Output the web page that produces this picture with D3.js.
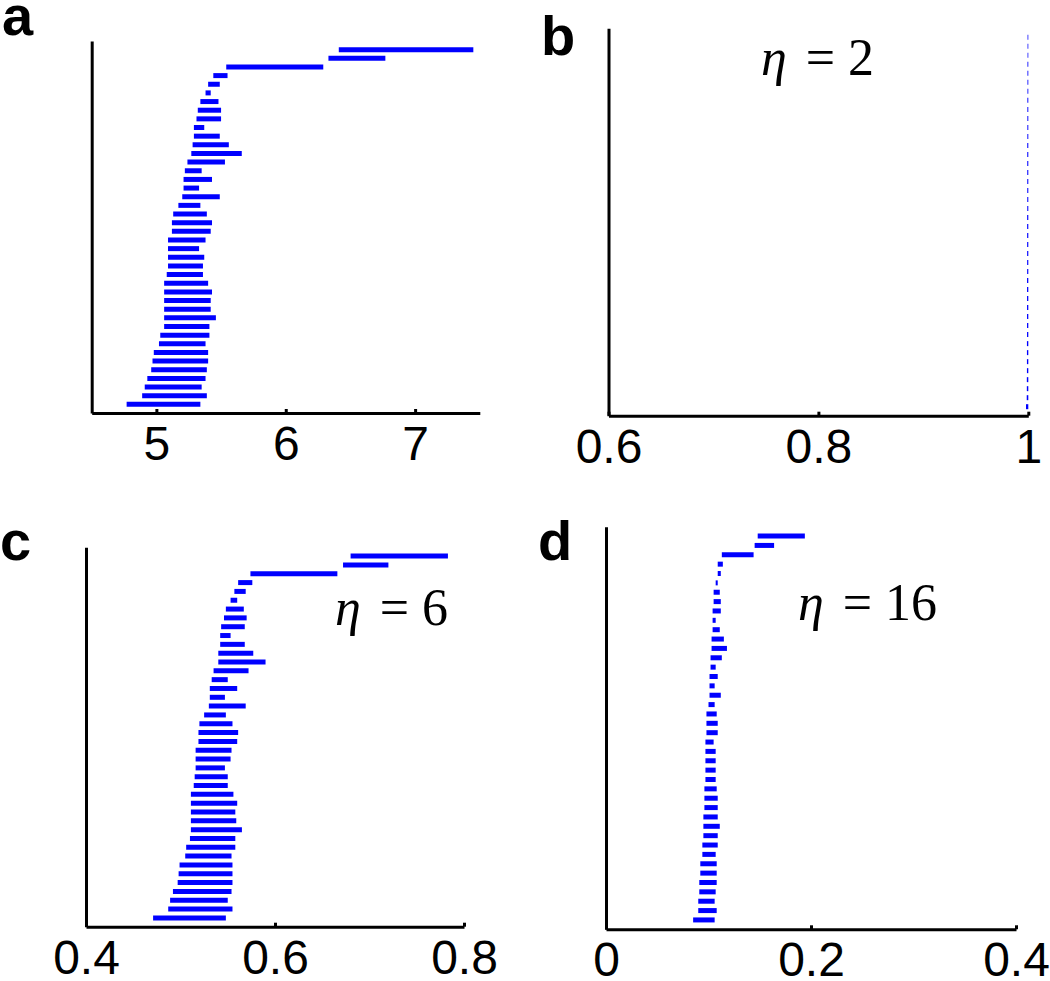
<!DOCTYPE html>
<html>
<head>
<meta charset="utf-8">
<script src="https://cdn.jsdelivr.net/npm/d3@7"></script>
<style>
  body { margin: 0; background: #fff; }
  .tick text { font-family: "Liberation Sans", Arial, sans-serif; font-size: 48px; fill: #000; }
  .panel-label { font-family: "Liberation Sans", Arial, sans-serif; font-weight: bold; font-size: 56px; }
  .eta { font-family: "Liberation Serif", "Times New Roman", serif; font-size: 52px; }
</style>
</head>
<body>
<svg id="chart" width="1050" height="981"></svg>
<script>
// intervals per row, listed top row first (42 rows in every panel)
var aLow  = [6.41, 6.33, 5.54, 5.44, 5.40, 5.38, 5.34, 5.32, 5.31, 5.29, 5.29, 5.28, 5.27, 5.24,
             5.22, 5.21, 5.21, 5.20, 5.17, 5.13, 5.12, 5.12, 5.09, 5.09, 5.09, 5.09, 5.08, 5.06,
             5.06, 5.06, 5.06, 5.06, 5.06, 5.03, 5.02, 4.98, 4.97, 4.96, 4.93, 4.91, 4.89, 4.77];
var aHigh = [7.45, 6.77, 6.29, 5.55, 5.49, 5.42, 5.48, 5.50, 5.50, 5.37, 5.49, 5.56, 5.66, 5.53,
             5.35, 5.43, 5.33, 5.49, 5.34, 5.39, 5.43, 5.42, 5.38, 5.33, 5.37, 5.36, 5.36, 5.40,
             5.43, 5.42, 5.42, 5.46, 5.41, 5.41, 5.38, 5.40, 5.40, 5.39, 5.38, 5.35, 5.39, 5.34];

var bLow  = [0.9993, 0.9993, 0.9993, 0.9992, 0.9992, 0.9992, 0.9992, 0.9991, 0.9991, 0.9991,
             0.9991, 0.9991, 0.9990, 0.9990, 0.9990, 0.9990, 0.9990, 0.9990, 0.9990, 0.9990,
             0.9989, 0.9989, 0.9989, 0.9989, 0.9989, 0.9989, 0.9989, 0.9988, 0.9988, 0.9988,
             0.9988, 0.9988, 0.9988, 0.9988, 0.9987, 0.9987, 0.9987, 0.9987, 0.9986, 0.9986,
             0.9985, 0.9978];
var bHigh = [1.0000, 1.0000, 1.0000, 1.0000, 1.0000, 1.0000, 1.0000, 1.0000, 1.0000, 1.0000,
             1.0000, 1.0000, 1.0000, 1.0000, 1.0000, 1.0000, 1.0000, 1.0000, 1.0000, 1.0000,
             1.0000, 1.0000, 1.0000, 1.0000, 1.0000, 1.0000, 1.0000, 1.0000, 1.0000, 1.0000,
             1.0000, 1.0000, 1.0000, 1.0000, 1.0000, 1.0000, 1.0000, 1.0000, 1.0000, 1.0000,
             1.0000, 1.0000];

var cLow  = [0.680, 0.672, 0.574, 0.561, 0.557, 0.553, 0.548, 0.546, 0.543, 0.542, 0.542, 0.540,
             0.540, 0.535, 0.533, 0.531, 0.531, 0.530, 0.525, 0.520, 0.519, 0.519, 0.516, 0.516,
             0.516, 0.515, 0.514, 0.511, 0.511, 0.511, 0.511, 0.511, 0.510, 0.506, 0.505, 0.499,
             0.498, 0.497, 0.492, 0.489, 0.487, 0.471];
var cHigh = [0.783, 0.720, 0.666, 0.576, 0.569, 0.560, 0.567, 0.570, 0.568, 0.553, 0.568, 0.577,
             0.590, 0.572, 0.550, 0.560, 0.547, 0.569, 0.548, 0.555, 0.561, 0.560, 0.554, 0.553,
             0.547, 0.550, 0.550, 0.556, 0.560, 0.558, 0.559, 0.565, 0.558, 0.558, 0.554, 0.555,
             0.555, 0.555, 0.554, 0.550, 0.555, 0.548];

var dLow  = [0.148, 0.145, 0.113, 0.109, 0.109, 0.107, 0.105, 0.105, 0.104, 0.104, 0.104, 0.103,
             0.103, 0.102, 0.102, 0.101, 0.101, 0.101, 0.100, 0.098, 0.098, 0.098, 0.097, 0.097,
             0.097, 0.097, 0.097, 0.096, 0.096, 0.096, 0.095, 0.095, 0.095, 0.094, 0.094, 0.092,
             0.092, 0.091, 0.091, 0.090, 0.090, 0.085];
var dHigh = [0.194, 0.164, 0.144, 0.114, 0.112, 0.109, 0.111, 0.112, 0.112, 0.107, 0.111, 0.115,
             0.118, 0.113, 0.107, 0.109, 0.106, 0.112, 0.106, 0.108, 0.109, 0.109, 0.105, 0.107,
             0.107, 0.107, 0.107, 0.108, 0.109, 0.109, 0.109, 0.111, 0.109, 0.109, 0.107, 0.108,
             0.108, 0.108, 0.107, 0.106, 0.108, 0.106];

var aTicks = [5, 6, 7];
var bTicks = [0.6, 0.8, 1];
var cTicks = [0.4, 0.6, 0.8];
var dTicks = [0, 0.2, 0.4];

var svg = d3.select("#chart");

function panel(opt) {
    var x = d3.scaleLinear().domain(opt.xdomain).range([opt.left, opt.right]);
    var y = d3.scaleLinear().domain([0, opt.low.length + 1]).range([opt.bottom, opt.top]);
    var n = opt.low.length;

    var g = svg.append("g");

    //interval bars, drawn as thick lines like matlab
    g.selectAll("line.bar")
        .data(opt.low)
        .enter()
        .append("line")
        .attr("class", "bar")
        .attr("x1", function(d) { return x(d); })
        .attr("x2", function(d, i) { return x(opt.high[i]); })
        .attr("y1", function(d, i) { return y(n - i); })
        .attr("y2", function(d, i) { return y(n - i); })
        .attr("stroke", "#0000ff")
        .attr("stroke-width", 5);

    //x axis
    var xa = g.append("g")
        .attr("transform", "translate(0," + opt.bottom + ")")
        .call(d3.axisBottom(x)
                .tickValues(opt.ticks)
                .tickFormat(d3.format("~g"))
                .tickSizeInner(-4)
                .tickSizeOuter(0)
                .tickPadding(13));
    xa.select(".domain").attr("stroke", "#000").attr("stroke-width", 3);
    xa.selectAll(".tick line").attr("stroke", "#000").attr("stroke-width", 3);

    //y axis, line only
    var ya = g.append("g")
        .attr("transform", "translate(" + opt.left + ",0)")
        .call(d3.axisLeft(y).tickValues([]).tickSizeOuter(0));
    ya.select(".domain").attr("stroke", "#000").attr("stroke-width", 3);

    svg.append("text")
        .attr("class", "panel-label")
        .attr("x", opt.labelX)
        .attr("y", opt.labelY)
        .text(opt.label);

    if (opt.eta) {
        var t = svg.append("text")
            .attr("class", "eta")
            .attr("x", opt.etaX)
            .attr("y", opt.etaY);
        t.append("tspan").attr("font-style", "italic").text("η");
        t.append("tspan").attr("dx", 6).text(" = " + opt.eta);
    }
}

panel({ low: aLow, high: aHigh, xdomain: [4.5, 7.5], ticks: aTicks,
        left: 91.7, right: 479.8, top: 41, bottom: 413,
        label: "a", labelX: 2, labelY: 35 });

panel({ low: bLow, high: bHigh, xdomain: [0.6, 1.0], ticks: bTicks,
        left: 608.5, right: 1028.3, top: 28.3, bottom: 415.7,
        label: "b", labelX: 541, labelY: 55, eta: "2", etaX: 761, etaY: 75 });

panel({ low: cLow, high: cHigh, xdomain: [0.4, 0.8], ticks: cTicks,
        left: 86, right: 464, top: 547.3, bottom: 926.7,
        label: "c", labelX: 0, labelY: 560, eta: "6", etaX: 335, etaY: 625 });

panel({ low: dLow, high: dHigh, xdomain: [0, 0.4], ticks: dTicks,
        left: 606, right: 1016, top: 526.7, bottom: 929.3,
        label: "d", labelX: 538, labelY: 560, eta: "16", etaX: 798, etaY: 620 });
</script>
</body>
</html>
